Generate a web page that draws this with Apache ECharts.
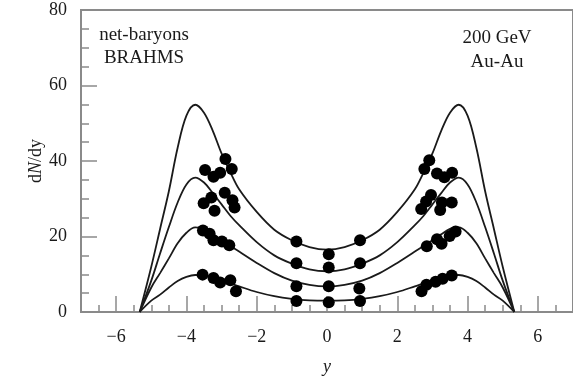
<!DOCTYPE html>
<html>
<head>
<meta charset="utf-8">
<script src="https://cdn.jsdelivr.net/npm/echarts@6/dist/echarts.min.js"></script>
<style>
  html, body { margin: 0; padding: 0; background: #fff; }
  #chart { width: 573px; height: 381px; }
</style>
</head>
<body>
<div id="chart"></div>
<script>
// rapidity grid for the model curves
const curveX = [-5.33, -5, -4.75, -4.5, -4.25, -4, -3.75, -3.5, -3.25, -3, -2.75, -2.5, -2, -1.5, -1, -0.5, 0,
  0.5, 1, 1.5, 2, 2.5, 2.75, 3, 3.25, 3.5, 3.75, 4, 4.25, 4.5, 4.75, 5, 5.33];

// model curves, lowest to highest
const curve1 = [0, 3.0, 4.6, 6.5, 8.2, 9.3, 9.8, 9.7, 9.2, 8.4, 7.6, 6.8, 5.3, 4.2, 3.5, 3.1, 3.0,
  3.1, 3.5, 4.2, 5.3, 6.8, 7.6, 8.4, 9.2, 9.7, 9.8, 9.3, 8.2, 6.5, 4.6, 3.0, 0];
const curve2 = [0, 6.5, 10.3, 14.2, 18.2, 21.0, 22.4, 22.0, 20.6, 19.0, 17.5, 16.0, 13.0, 10.3, 8.3, 7.2, 6.8,
  7.2, 8.3, 10.3, 13.0, 16.0, 17.5, 19.0, 20.6, 22.0, 22.4, 21.0, 18.2, 14.2, 10.3, 6.5, 0];
const curve3 = [0, 8.3, 15.5, 22.5, 29.0, 33.8, 35.6, 34.3, 31.5, 28.5, 25.5, 23.0, 18.5, 15.0, 12.8, 11.3, 10.8,
  11.3, 12.8, 15.0, 18.5, 23.0, 25.5, 28.5, 31.5, 34.3, 35.6, 33.8, 29.0, 22.5, 15.5, 8.3, 0];
const curve4 = [0, 12.0, 22.0, 32.0, 43.5, 52.0, 54.9, 52.8, 48.0, 42.0, 37.0, 32.5, 26.5, 21.8, 19.0, 17.2, 16.5,
  17.2, 19.0, 21.8, 26.5, 32.5, 37.0, 42.0, 48.0, 52.8, 54.9, 52.0, 43.5, 32.0, 22.0, 12.0, 0];

// BRAHMS points, [y, dN/dy]
const dots1 = [[-3.54, 9.9], [-3.23, 9.0], [-3.04, 7.8], [-2.75, 8.4], [-2.59, 5.5],
  [-0.87, 2.9], [0.05, 2.6], [0.94, 2.9],
  [2.69, 5.5], [2.83, 7.2], [3.09, 8.0], [3.29, 8.8], [3.55, 9.7]];
const dots2 = [[-3.53, 21.6], [-3.34, 20.7], [-3.23, 19.0], [-2.99, 18.7], [-2.78, 17.7],
  [-0.87, 6.8], [0.05, 6.8], [0.92, 6.2],
  [2.84, 17.4], [3.13, 19.3], [3.26, 18.1], [3.49, 20.1], [3.66, 21.3]];
const dots3 = [[-3.51, 28.8], [-3.29, 30.3], [-3.2, 26.8], [-2.91, 31.6], [-2.69, 29.6], [-2.63, 27.7],
  [-0.87, 12.9], [0.05, 11.8], [0.94, 12.9],
  [2.68, 27.3], [2.82, 29.3], [2.96, 31.0], [3.22, 27.0], [3.27, 29.0], [3.55, 29.0]];
const dots4 = [[-3.47, 37.6], [-3.23, 35.8], [-3.04, 36.9], [-2.89, 40.5], [-2.71, 37.9],
  [-0.87, 18.7], [0.05, 15.3], [0.94, 19.0],
  [2.77, 37.9], [2.91, 40.2], [3.13, 36.7], [3.34, 35.7], [3.56, 36.9]];

const xTicks = [-6, -4, -2, 0, 2, 4, 6];

const FONT = '"Liberation Serif", "DejaVu Serif", serif';
const AXIS = '#8a8a8a';
const INK = '#1a1a1a';

const chart = echarts.init(document.getElementById('chart'));

const toLine = (ys) => curveX.map((x, i) => [x, ys[i]]);

const lineSeries = [curve1, curve2, curve3, curve4].map((ys) => ({
  type: 'line',
  data: toLine(ys),
  smooth: 0.35,
  showSymbol: false,
  symbol: 'none',
  lineStyle: { color: INK, width: 1.8 },
  z: 2,
}));

const dotSeries = {
  type: 'scatter',
  data: [].concat(dots1, dots2, dots3, dots4),
  symbol: 'circle',
  symbolSize: 12,
  itemStyle: { color: '#000', opacity: 1 },
  z: 3,
};

chart.setOption({
  animation: false,
  backgroundColor: '#fff',
  grid: {
    left: 81, right: -2, top: 10, bottom: 65,
    show: true, borderColor: AXIS, borderWidth: 2,
  },
  xAxis: [
    {
      type: 'value',
      min: -7, max: 7,
      name: 'y',
      nameLocation: 'middle',
      nameGap: 46,
      nameMoveOverlap: false,
      nameTextStyle: { fontFamily: FONT, fontSize: 18, fontStyle: 'italic', color: INK },
      axisLine: { onZero: false, lineStyle: { color: AXIS, width: 2 } },
      axisTick: { inside: true, length: 16, customValues: xTicks, lineStyle: { color: AXIS, width: 1.5 } },
      axisLabel: {
        customValues: xTicks,
        margin: 16,
        fontFamily: FONT, fontSize: 18, color: INK,
        formatter: (v) => (v < 0 ? '\u2212' + Math.abs(v) : String(v)),
      },
      splitLine: { show: false },
    },
    {
      // short ticks every 0.5
      type: 'value',
      min: -7, max: 7, interval: 0.5,
      position: 'bottom',
      axisLine: { show: false, onZero: false },
      axisTick: { inside: true, length: 7, lineStyle: { color: AXIS, width: 1.5 } },
      axisLabel: { show: false },
      splitLine: { show: false },
    },
  ],
  yAxis: {
    type: 'value',
    min: 0, max: 80, interval: 20,
    name: 'd{i|N}/dy',
    nameLocation: 'middle',
    nameGap: 36,
    nameRotate: 90,
    nameMoveOverlap: false,
    nameTextStyle: {
      fontFamily: FONT, fontSize: 18, color: INK,
      rich: { i: { fontFamily: FONT, fontSize: 18, fontStyle: 'italic', color: INK } },
    },
    axisLine: { show: true, onZero: false, lineStyle: { color: AXIS, width: 2 } },
    axisTick: { inside: true, length: 16, lineStyle: { color: AXIS, width: 1.5 } },
    minorTick: { show: true, splitNumber: 4, length: 8, lineStyle: { color: AXIS, width: 1.5 } },
    axisLabel: { margin: 14, fontFamily: FONT, fontSize: 18, color: INK },
    splitLine: { show: false },
  },
  graphic: [
    {
      type: 'text', x: 144, y: 47,
      style: { text: 'net-baryons\nBRAHMS', font: '19px ' + FONT, fill: INK, align: 'center', verticalAlign: 'middle', lineHeight: 23 },
    },
    {
      type: 'text', x: 497, y: 50,
      style: { text: '200 GeV\nAu-Au', font: '19px ' + FONT, fill: INK, align: 'center', verticalAlign: 'middle', lineHeight: 24 },
    },
  ],
  series: [...lineSeries, dotSeries],
});
</script>
</body>
</html>
